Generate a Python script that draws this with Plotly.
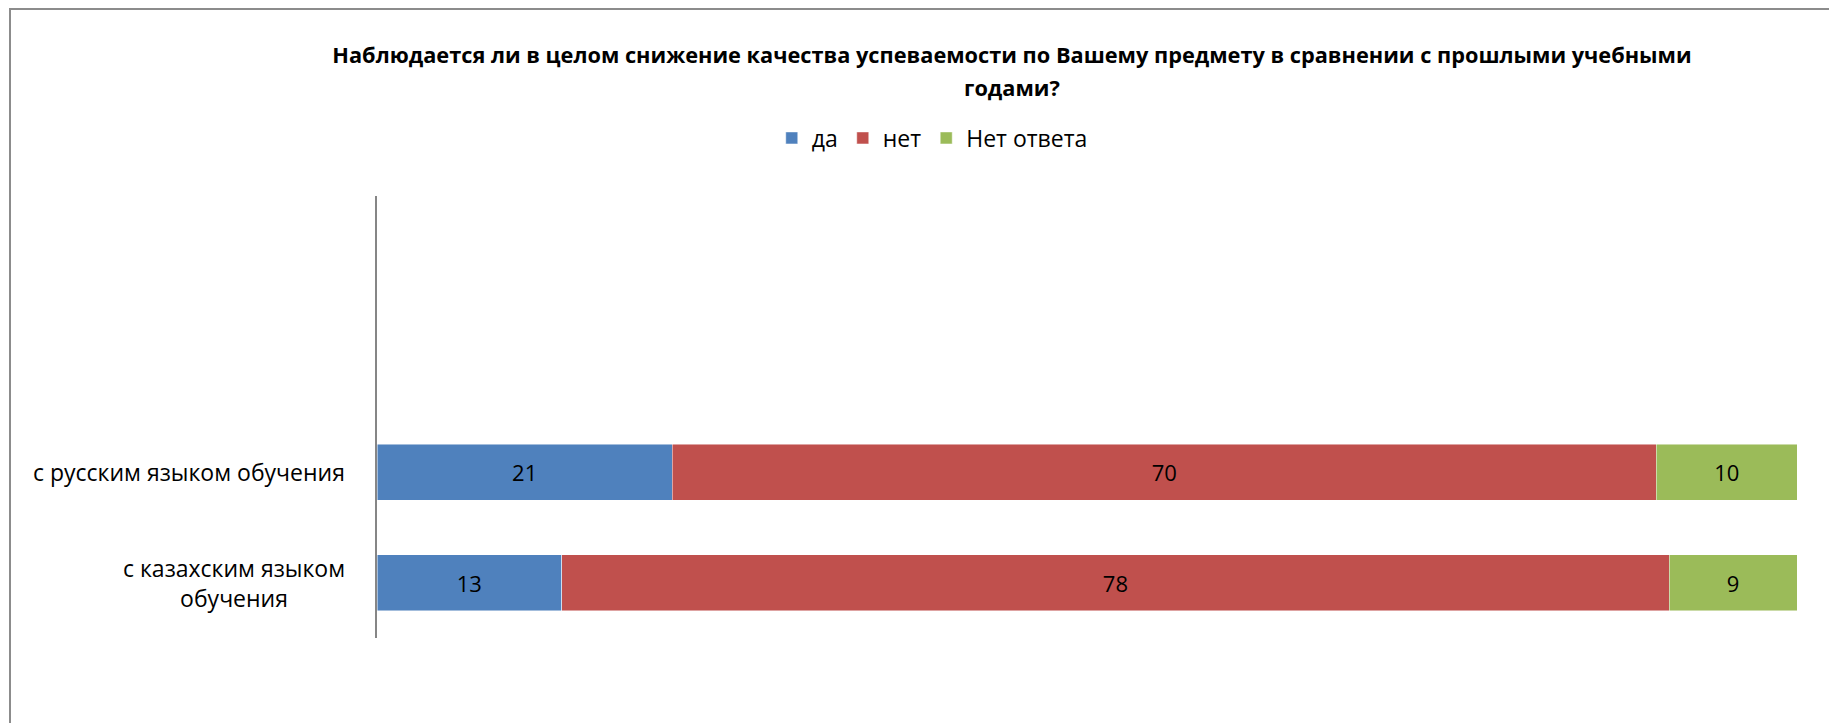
import plotly.graph_objects as go

categories = ["с казахским языком обучения", "с русским языком обучения"]
category_labels = ["с казахским языком<br>обучения", "с русским языком обучения"]
series_names = ["да", "нет", "Нет ответа"]
da_values = [13, 21]
net_values = [78, 70]
no_answer_values = [9, 10]
colors = ["#4F81BD", "#C0504D", "#9BBB59"]

title_line1 = "Наблюдается ли в целом снижение качества успеваемости по Вашему предмету в сравнении с прошлыми учебными"
title_line2 = "годами?"

FONT = "Open Sans"

fig = go.Figure()
for name, vals, col in zip(series_names, [da_values, net_values, no_answer_values], colors):
    fig.add_trace(go.Bar(
        y=categories, x=vals, name=name, orientation="h",
        marker=dict(color=col, line=dict(color="rgba(255,255,255,0.6)", width=0.8)),
        text=vals, texttemplate="%{text}", textposition="inside",
        insidetextanchor="middle", constraintext="none",
        textfont=dict(family=FONT, size=22, color="#000000"),
    ))

annotations = []
for cat, lab in zip(categories, category_labels):
    annotations.append(dict(
        x=0, xref="paper", y=cat, yref="y", text=lab, showarrow=False,
        xanchor="right", yanchor="middle", align="center", xshift=-30,
        font=dict(family=FONT, size=23, color="#000000"),
    ))
annotations.append(dict(
    x=(1012 - 377) / 1420, xref="paper", y=1 + (196 - 88) / 442, yref="paper",
    text=title_line2, showarrow=False, xanchor="center", yanchor="middle",
    font=dict(family=FONT, size=21.75, color="#000000", weight="bold"),
))

fig.update_layout(
    width=1829, height=723,
    barmode="stack", barnorm="percent", bargap=0.49,
    paper_bgcolor="white", plot_bgcolor="white",
    margin=dict(l=377, r=32, t=196, b=85),
    font=dict(family=FONT, size=21, color="#000000"),
    title=dict(text=title_line1, x=1012 / 1829, xanchor="center", y=1 - 55 / 723, yanchor="middle",
               font=dict(family=FONT, size=21.75, color="#000000", weight="bold")),
    legend=dict(orientation="h", x=0.278, xanchor="left", y=1 + (196 - 138) / 442, yanchor="middle",
                font=dict(family=FONT, size=23, color="#000000"), traceorder="normal",
                itemwidth=30, bgcolor="rgba(0,0,0,0)"),
    xaxis=dict(range=[0, 100], showgrid=False, zeroline=False, showticklabels=False,
               showline=False, ticks=""),
    yaxis=dict(categoryorder="array", categoryarray=categories, range=[-0.5, 3.5],
               showgrid=False, zeroline=False, showticklabels=False,
               showline=True, linecolor="#868686", linewidth=2, ticks=""),
    annotations=annotations,
    shapes=[dict(type="rect", xref="paper", yref="paper",
                 x0=(10 - 377) / 1420, x1=1.1, y0=-0.4, y1=1 + (196 - 9) / 442,
                 line=dict(color="#8c8c8c", width=2), fillcolor="rgba(0,0,0,0)", layer="below")],
    showlegend=True,
)

fig.write_html("out.html", config={"displayModeBar": False},
               post_script="document.body.style.margin='0';document.body.style.overflow='hidden';")
